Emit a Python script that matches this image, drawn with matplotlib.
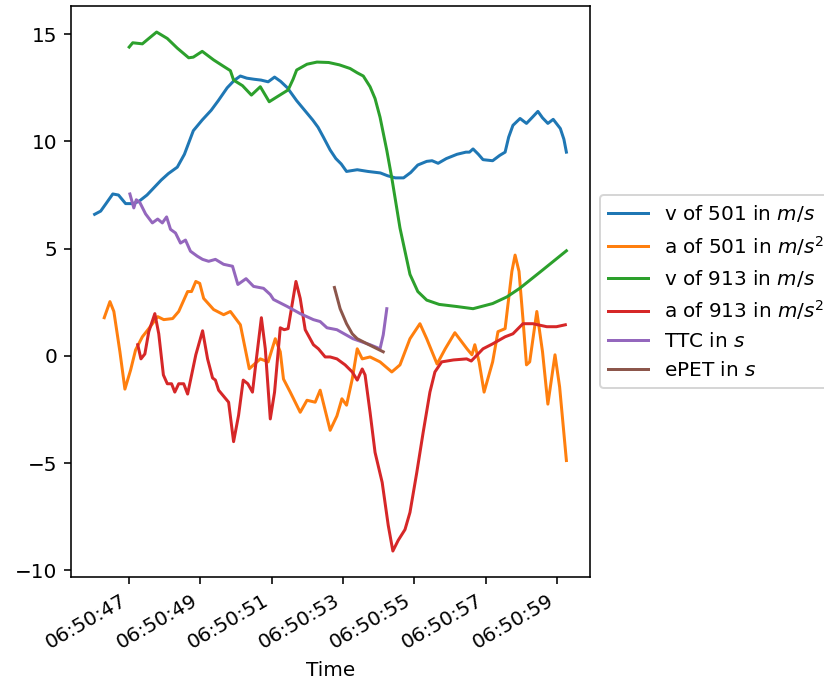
import datetime as dt
import matplotlib
matplotlib.use("Agg")
import matplotlib.pyplot as plt
import matplotlib.dates as mdates

# seconds after 06:50:00
base = dt.datetime(2020, 1, 1, 6, 50, 0)

v501_t = [46.03, 46.2, 46.35, 46.54, 46.7, 46.9, 47.1, 47.27, 47.5, 47.7, 47.9, 48.1, 48.35, 48.55, 48.8,
          49.05, 49.3, 49.5, 49.75, 49.95, 50.12, 50.3, 50.5, 50.7, 50.9, 51.08, 51.25, 51.44, 51.7, 52.0,
          52.15, 52.3, 52.45, 52.64, 52.8, 52.95, 53.1, 53.4, 53.7, 54.05, 54.25, 54.47, 54.7, 54.9, 55.1,
          55.35, 55.5, 55.67, 55.9, 56.2, 56.45, 56.55, 56.65, 56.8, 56.93, 57.2, 57.4, 57.55, 57.65, 57.77,
          57.97, 58.15, 58.3, 58.47, 58.6, 58.75, 58.9, 59.1, 59.2, 59.27]
v501 = [6.6, 6.75, 7.1, 7.55, 7.5, 7.1, 7.1, 7.2, 7.5, 7.85, 8.2, 8.5, 8.8, 9.4, 10.5,
        11.0, 11.45, 11.9, 12.5, 12.85, 13.05, 12.95, 12.9, 12.86, 12.78, 13.0, 12.8, 12.5, 11.9, 11.3,
        11.0, 10.66, 10.2, 9.6, 9.2, 8.95, 8.6, 8.68, 8.6, 8.53, 8.4, 8.3, 8.3, 8.55, 8.9,
        9.07, 9.1, 8.98, 9.2, 9.4, 9.5, 9.5, 9.65, 9.4, 9.15, 9.1, 9.35, 9.5, 10.2, 10.75,
        11.07, 10.84, 11.1, 11.4, 11.1, 10.84, 11.03, 10.6, 10.1, 9.5]

a501_t = [46.3, 46.46, 46.57, 46.74, 46.88, 47.04, 47.18, 47.37, 47.55, 47.8, 47.97, 48.22, 48.39, 48.64,
          48.75, 48.87, 48.98, 49.09, 49.37, 49.65, 49.84, 50.12, 50.37, 50.68, 50.9, 51.1, 51.24, 51.33,
          51.52, 51.8, 51.99, 52.22, 52.36, 52.64, 52.83, 52.97, 53.1, 53.26, 53.4, 53.54, 53.76, 54.04,
          54.37, 54.6, 54.88, 55.16, 55.35, 55.64, 55.87, 56.14, 56.48, 56.62, 56.7, 56.82, 56.96, 57.2,
          57.35, 57.55, 57.74, 57.83, 57.94, 58.05, 58.15, 58.24, 58.44, 58.6, 58.75, 58.95, 59.08, 59.27]
a501 = [1.78, 2.53, 2.07, 0.19, -1.55, -0.66, 0.28, 0.89, 1.27, 1.83, 1.69, 1.74, 2.07, 3.0,
        3.0, 3.47, 3.38, 2.68, 2.16, 1.92, 2.07, 1.45, -0.6, -0.14, -0.28, 0.8, 0.19, -1.08,
        -1.69, -2.63, -2.07, -2.16, -1.6, -3.47, -2.8, -2.0, -2.3, -1.08, 0.33, -0.14, -0.05, -0.28,
        -0.75, -0.42, 0.8, 1.5, 0.8, -0.38, 0.33, 1.08, 0.33, 0.05, 0.52, -0.28, -1.69, -0.28,
        1.13, 1.27, 3.94, 4.7, 3.94, 1.74, -0.42, -0.28, 2.07, 0.19, -2.25, 0.05, -1.45, -4.88]

v913_t = [47.0, 47.1, 47.37, 47.55, 47.77, 48.07, 48.35, 48.67, 48.8, 49.05, 49.37, 49.65, 49.84, 49.93,
          50.18, 50.43, 50.68, 50.93, 51.15, 51.46, 51.6, 51.7, 51.99, 52.27, 52.6, 52.9, 53.2, 53.4,
          53.57, 53.76, 53.9, 54.04, 54.23, 54.37, 54.6, 54.88, 55.1, 55.35, 55.7, 56.2, 56.65, 57.2,
          57.6, 57.96, 58.6, 59.27]
v913 = [14.4, 14.6, 14.55, 14.8, 15.1, 14.8, 14.35, 13.9, 13.93, 14.2, 13.8, 13.5, 13.3, 12.86,
        12.6, 12.16, 12.55, 11.85, 12.08, 12.4, 12.9, 13.33, 13.6, 13.7, 13.68, 13.57, 13.4, 13.2,
        13.05, 12.55, 12.0, 11.13, 9.58, 8.3, 5.96, 3.8, 3.0, 2.6, 2.4, 2.3, 2.2, 2.44,
        2.75, 3.15, 4.0, 4.9]

a913_t = [47.24, 47.33, 47.44, 47.55, 47.72, 47.83, 47.96, 48.07, 48.19, 48.28, 48.39, 48.53, 48.64, 48.87,
          49.06, 49.2, 49.34, 49.42, 49.51, 49.79, 49.93, 50.07, 50.2, 50.33, 50.46, 50.57, 50.71, 50.82,
          50.96, 51.08, 51.24, 51.35, 51.46, 51.68, 51.8, 51.94, 52.17, 52.31, 52.5, 52.64, 52.83, 53.06,
          53.26, 53.4, 53.54, 53.62, 53.76, 53.9, 54.1, 54.27, 54.4, 54.55, 54.74, 54.88, 55.07, 55.25,
          55.44, 55.58, 55.77, 56.1, 56.47, 56.6, 56.93, 57.2, 57.55, 57.77, 58.05, 58.33, 58.72, 58.99, 59.24]
a913 = [0.52, -0.14, 0.09, 1.13, 1.97, 1.03, -0.89, -1.3, -1.3, -1.69, -1.3, -1.3, -1.78, 0.05,
        1.17, -0.14, -1.03, -1.13, -1.6, -2.16, -4.0, -2.77, -1.13, -1.3, -1.69, -0.14, 1.78, 0.33,
        -2.94, -1.69, 1.31, 1.22, 1.27, 3.47, 2.68, 1.22, 0.52, 0.33, -0.05, -0.05, -0.14, -0.42,
        -0.75, -1.13, -0.61, -0.89, -2.63, -4.5, -5.9, -7.9, -9.1, -8.6, -8.1, -7.3, -5.45, -3.57,
        -1.69, -0.75, -0.28, -0.19, -0.14, -0.24, 0.33, 0.56, 0.89, 1.03, 1.5, 1.5, 1.36, 1.36, 1.45]

ttc_t = [47.02, 47.13, 47.2, 47.3, 47.46, 47.65, 47.8, 47.93, 48.05, 48.16, 48.3, 48.44, 48.58, 48.72,
         48.91, 49.06, 49.23, 49.42, 49.65, 49.9, 50.05, 50.28, 50.49, 50.77, 50.96, 51.05, 51.44, 51.8,
         52.17, 52.36, 52.55, 52.83, 53.28, 53.76, 54.04, 54.13, 54.23]
ttc = [7.55, 6.9, 7.28, 7.15, 6.62, 6.2, 6.38, 6.2, 6.48, 5.9, 5.73, 5.26, 5.4, 4.88,
       4.65, 4.5, 4.41, 4.5, 4.27, 4.18, 3.33, 3.6, 3.24, 3.15, 2.86, 2.63, 2.3, 1.97,
       1.69, 1.6, 1.31, 1.22, 0.8, 0.52, 0.33, 0.98, 2.2]

epet_t = [52.76, 52.92, 53.1, 53.26, 53.4, 53.68, 53.96, 54.13]
epet = [3.19, 2.2, 1.5, 1.03, 0.8, 0.56, 0.33, 0.19]

series = [
    (v501_t, v501, 'v of 501 in $m/s$'),
    (a501_t, a501, 'a of 501 in $m/s^2$'),
    (v913_t, v913, 'v of 913 in $m/s$'),
    (a913_t, a913, 'a of 913 in $m/s^2$'),
    (ttc_t, ttc, 'TTC in $s$'),
    (epet_t, epet, 'ePET in $s$'),
]


def to_time(secs):
    return [base + dt.timedelta(seconds=s) for s in secs]


fig = plt.figure(figsize=(824 / 144, 678 / 144), dpi=144)
ax = fig.add_axes([0.0862, 0.149, 0.6298, 0.842])

for t, y, label in series:
    ax.plot(to_time(t), y, label=label)

ax.xaxis.set_major_locator(mdates.SecondLocator(bysecond=range(1, 60, 2)))
ax.xaxis.set_major_formatter(mdates.DateFormatter('%H:%M:%S'))
for lbl in ax.get_xticklabels():
    lbl.set_rotation(30)
    lbl.set_ha('right')
ax.set_xlabel('Time')
ax.legend(loc='center left', bbox_to_anchor=(1.0, 0.5))

fig.savefig('out.png', dpi=144)
